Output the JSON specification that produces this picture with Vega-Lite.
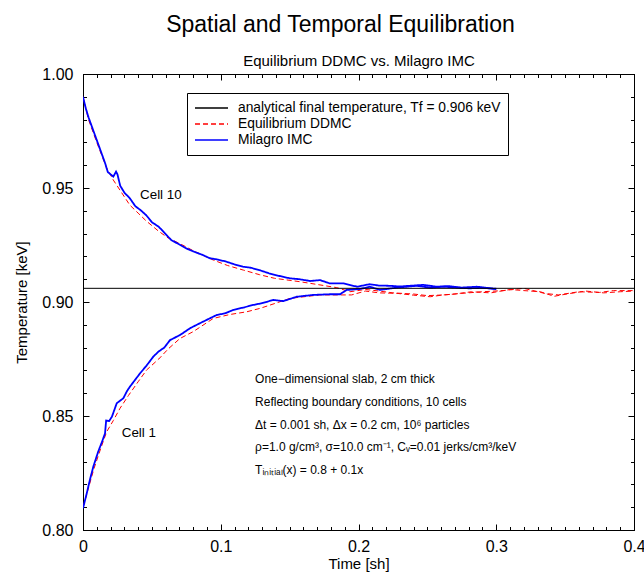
{
  "$schema": "https://vega.github.io/schema/vega-lite/v6.json",
  "width": 551,
  "height": 456,
  "autosize": {"type": "none"},
  "padding": {"left": 83, "top": 74, "right": 10, "bottom": 47},
  "background": "white",
  "title": {"text": "Spatial and Temporal Equilibration", "font": "Liberation Sans", "fontSize": 23, "fontWeight": "normal", "color": "black", "anchor": "middle", "dx": -18, "offset": 17},
  "config": {
    "view": {"stroke": "black", "strokeWidth": 1},
    "font": "Liberation Sans",
    "axis": {"grid": false, "domainColor": "black", "tickColor": "black", "labelColor": "black", "titleColor": "black", "labelFont": "Liberation Sans", "titleFont": "Liberation Sans", "titleFontWeight": "normal", "labelFlush": false, "labelOverlap": false},
    "legend": {"labelFont": "Liberation Sans", "labelFontSize": 13.8, "labelColor": "black", "strokeColor": "black", "fillColor": "white", "padding": 7, "symbolType": "stroke", "symbolSize": 1089, "symbolStrokeWidth": 1.5, "clipHeight": 16, "rowPadding": 0, "labelOffset": 9, "labelLimit": 400}
  },
  "datasets": {
    "ref": [{"series": "analytical final temperature, Tf = 0.906 keV", "T": 0.906}],
    "ddmc": [
      {"series": "Equilibrium DDMC", "cell": "10", "t": 0, "T": 0.990},
      {"series": "Equilibrium DDMC", "cell": "10", "t": 0.004, "T": 0.980},
      {"series": "Equilibrium DDMC", "cell": "10", "t": 0.010, "T": 0.970},
      {"series": "Equilibrium DDMC", "cell": "10", "t": 0.017, "T": 0.959},
      {"series": "Equilibrium DDMC", "cell": "10", "t": 0.022, "T": 0.9535},
      {"series": "Equilibrium DDMC", "cell": "10", "t": 0.028, "T": 0.948},
      {"series": "Equilibrium DDMC", "cell": "10", "t": 0.034, "T": 0.9425},
      {"series": "Equilibrium DDMC", "cell": "10", "t": 0.040, "T": 0.939},
      {"series": "Equilibrium DDMC", "cell": "10", "t": 0.046, "T": 0.9355},
      {"series": "Equilibrium DDMC", "cell": "10", "t": 0.055, "T": 0.931},
      {"series": "Equilibrium DDMC", "cell": "10", "t": 0.062, "T": 0.928},
      {"series": "Equilibrium DDMC", "cell": "10", "t": 0.070, "T": 0.9257},
      {"series": "Equilibrium DDMC", "cell": "10", "t": 0.080, "T": 0.9225},
      {"series": "Equilibrium DDMC", "cell": "10", "t": 0.0946, "T": 0.9184},
      {"series": "Equilibrium DDMC", "cell": "10", "t": 0.105, "T": 0.916},
      {"series": "Equilibrium DDMC", "cell": "10", "t": 0.1164, "T": 0.914},
      {"series": "Equilibrium DDMC", "cell": "10", "t": 0.128, "T": 0.912},
      {"series": "Equilibrium DDMC", "cell": "10", "t": 0.139, "T": 0.9104},
      {"series": "Equilibrium DDMC", "cell": "10", "t": 0.1575, "T": 0.9089},
      {"series": "Equilibrium DDMC", "cell": "10", "t": 0.172, "T": 0.9075},
      {"series": "Equilibrium DDMC", "cell": "10", "t": 0.1842, "T": 0.9063},
      {"series": "Equilibrium DDMC", "cell": "10", "t": 0.1938, "T": 0.9045},
      {"series": "Equilibrium DDMC", "cell": "10", "t": 0.205, "T": 0.9055},
      {"series": "Equilibrium DDMC", "cell": "10", "t": 0.215, "T": 0.9048},
      {"series": "Equilibrium DDMC", "cell": "10", "t": 0.225, "T": 0.904},
      {"series": "Equilibrium DDMC", "cell": "10", "t": 0.240, "T": 0.9035},
      {"series": "Equilibrium DDMC", "cell": "10", "t": 0.250, "T": 0.9028},
      {"series": "Equilibrium DDMC", "cell": "10", "t": 0.262, "T": 0.9031},
      {"series": "Equilibrium DDMC", "cell": "10", "t": 0.275, "T": 0.9038},
      {"series": "Equilibrium DDMC", "cell": "10", "t": 0.290, "T": 0.9045},
      {"series": "Equilibrium DDMC", "cell": "10", "t": 0.305, "T": 0.905},
      {"series": "Equilibrium DDMC", "cell": "10", "t": 0.320, "T": 0.906},
      {"series": "Equilibrium DDMC", "cell": "10", "t": 0.335, "T": 0.9038},
      {"series": "Equilibrium DDMC", "cell": "10", "t": 0.345, "T": 0.9031},
      {"series": "Equilibrium DDMC", "cell": "10", "t": 0.360, "T": 0.9045},
      {"series": "Equilibrium DDMC", "cell": "10", "t": 0.375, "T": 0.9042},
      {"series": "Equilibrium DDMC", "cell": "10", "t": 0.385, "T": 0.905},
      {"series": "Equilibrium DDMC", "cell": "10", "t": 0.400, "T": 0.905},
      {"series": "Equilibrium DDMC", "cell": "1", "t": 0, "T": 0.810},
      {"series": "Equilibrium DDMC", "cell": "1", "t": 0.004, "T": 0.8185},
      {"series": "Equilibrium DDMC", "cell": "1", "t": 0.008, "T": 0.827},
      {"series": "Equilibrium DDMC", "cell": "1", "t": 0.013, "T": 0.836},
      {"series": "Equilibrium DDMC", "cell": "1", "t": 0.0172, "T": 0.8431},
      {"series": "Equilibrium DDMC", "cell": "1", "t": 0.022, "T": 0.848},
      {"series": "Equilibrium DDMC", "cell": "1", "t": 0.0269, "T": 0.8534},
      {"series": "Equilibrium DDMC", "cell": "1", "t": 0.033, "T": 0.859},
      {"series": "Equilibrium DDMC", "cell": "1", "t": 0.040, "T": 0.865},
      {"series": "Equilibrium DDMC", "cell": "1", "t": 0.0462, "T": 0.8702},
      {"series": "Equilibrium DDMC", "cell": "1", "t": 0.055, "T": 0.875},
      {"series": "Equilibrium DDMC", "cell": "1", "t": 0.062, "T": 0.8795},
      {"series": "Equilibrium DDMC", "cell": "1", "t": 0.0704, "T": 0.884},
      {"series": "Equilibrium DDMC", "cell": "1", "t": 0.080, "T": 0.887},
      {"series": "Equilibrium DDMC", "cell": "1", "t": 0.0946, "T": 0.8928},
      {"series": "Equilibrium DDMC", "cell": "1", "t": 0.1065, "T": 0.8945},
      {"series": "Equilibrium DDMC", "cell": "1", "t": 0.1188, "T": 0.8957},
      {"series": "Equilibrium DDMC", "cell": "1", "t": 0.1285, "T": 0.8972},
      {"series": "Equilibrium DDMC", "cell": "1", "t": 0.140, "T": 0.8995},
      {"series": "Equilibrium DDMC", "cell": "1", "t": 0.1503, "T": 0.9016},
      {"series": "Equilibrium DDMC", "cell": "1", "t": 0.172, "T": 0.9031},
      {"series": "Equilibrium DDMC", "cell": "1", "t": 0.195, "T": 0.9031},
      {"series": "Equilibrium DDMC", "cell": "1", "t": 0.205, "T": 0.9048},
      {"series": "Equilibrium DDMC", "cell": "1", "t": 0.215, "T": 0.904},
      {"series": "Equilibrium DDMC", "cell": "1", "t": 0.2277, "T": 0.9038},
      {"series": "Equilibrium DDMC", "cell": "1", "t": 0.240, "T": 0.903},
      {"series": "Equilibrium DDMC", "cell": "1", "t": 0.252, "T": 0.9023},
      {"series": "Equilibrium DDMC", "cell": "1", "t": 0.2616, "T": 0.9031},
      {"series": "Equilibrium DDMC", "cell": "1", "t": 0.270, "T": 0.9035},
      {"series": "Equilibrium DDMC", "cell": "1", "t": 0.282, "T": 0.9045},
      {"series": "Equilibrium DDMC", "cell": "1", "t": 0.296, "T": 0.904},
      {"series": "Equilibrium DDMC", "cell": "1", "t": 0.310, "T": 0.9055},
      {"series": "Equilibrium DDMC", "cell": "1", "t": 0.320, "T": 0.905},
      {"series": "Equilibrium DDMC", "cell": "1", "t": 0.332, "T": 0.9045},
      {"series": "Equilibrium DDMC", "cell": "1", "t": 0.342, "T": 0.9025},
      {"series": "Equilibrium DDMC", "cell": "1", "t": 0.352, "T": 0.9036},
      {"series": "Equilibrium DDMC", "cell": "1", "t": 0.365, "T": 0.9048},
      {"series": "Equilibrium DDMC", "cell": "1", "t": 0.378, "T": 0.904},
      {"series": "Equilibrium DDMC", "cell": "1", "t": 0.390, "T": 0.9045},
      {"series": "Equilibrium DDMC", "cell": "1", "t": 0.400, "T": 0.9048}
    ],
    "imc": [
      {"series": "Milagro IMC", "cell": "10", "t": 0, "T": 0.990},
      {"series": "Milagro IMC", "cell": "10", "t": 0.002, "T": 0.985},
      {"series": "Milagro IMC", "cell": "10", "t": 0.004, "T": 0.981},
      {"series": "Milagro IMC", "cell": "10", "t": 0.007, "T": 0.976},
      {"series": "Milagro IMC", "cell": "10", "t": 0.010, "T": 0.971},
      {"series": "Milagro IMC", "cell": "10", "t": 0.013, "T": 0.966},
      {"series": "Milagro IMC", "cell": "10", "t": 0.016, "T": 0.961},
      {"series": "Milagro IMC", "cell": "10", "t": 0.018, "T": 0.957},
      {"series": "Milagro IMC", "cell": "10", "t": 0.020, "T": 0.956},
      {"series": "Milagro IMC", "cell": "10", "t": 0.022, "T": 0.955},
      {"series": "Milagro IMC", "cell": "10", "t": 0.024, "T": 0.9572},
      {"series": "Milagro IMC", "cell": "10", "t": 0.025, "T": 0.956},
      {"series": "Milagro IMC", "cell": "10", "t": 0.027, "T": 0.951},
      {"series": "Milagro IMC", "cell": "10", "t": 0.030, "T": 0.948},
      {"series": "Milagro IMC", "cell": "10", "t": 0.034, "T": 0.9455},
      {"series": "Milagro IMC", "cell": "10", "t": 0.038, "T": 0.942},
      {"series": "Milagro IMC", "cell": "10", "t": 0.042, "T": 0.9402},
      {"series": "Milagro IMC", "cell": "10", "t": 0.046, "T": 0.938},
      {"series": "Milagro IMC", "cell": "10", "t": 0.050, "T": 0.935},
      {"series": "Milagro IMC", "cell": "10", "t": 0.055, "T": 0.933},
      {"series": "Milagro IMC", "cell": "10", "t": 0.060, "T": 0.9298},
      {"series": "Milagro IMC", "cell": "10", "t": 0.064, "T": 0.9272},
      {"series": "Milagro IMC", "cell": "10", "t": 0.070, "T": 0.9252},
      {"series": "Milagro IMC", "cell": "10", "t": 0.075, "T": 0.9235},
      {"series": "Milagro IMC", "cell": "10", "t": 0.080, "T": 0.9222},
      {"series": "Milagro IMC", "cell": "10", "t": 0.087, "T": 0.9206},
      {"series": "Milagro IMC", "cell": "10", "t": 0.092, "T": 0.9192},
      {"series": "Milagro IMC", "cell": "10", "t": 0.098, "T": 0.9186},
      {"series": "Milagro IMC", "cell": "10", "t": 0.104, "T": 0.9177},
      {"series": "Milagro IMC", "cell": "10", "t": 0.110, "T": 0.9165},
      {"series": "Milagro IMC", "cell": "10", "t": 0.116, "T": 0.9155},
      {"series": "Milagro IMC", "cell": "10", "t": 0.122, "T": 0.915},
      {"series": "Milagro IMC", "cell": "10", "t": 0.128, "T": 0.914},
      {"series": "Milagro IMC", "cell": "10", "t": 0.135, "T": 0.9126},
      {"series": "Milagro IMC", "cell": "10", "t": 0.142, "T": 0.9115},
      {"series": "Milagro IMC", "cell": "10", "t": 0.150, "T": 0.9104},
      {"series": "Milagro IMC", "cell": "10", "t": 0.157, "T": 0.91},
      {"series": "Milagro IMC", "cell": "10", "t": 0.165, "T": 0.9092},
      {"series": "Milagro IMC", "cell": "10", "t": 0.172, "T": 0.9096},
      {"series": "Milagro IMC", "cell": "10", "t": 0.179, "T": 0.9082},
      {"series": "Milagro IMC", "cell": "10", "t": 0.189, "T": 0.9082},
      {"series": "Milagro IMC", "cell": "10", "t": 0.199, "T": 0.9067},
      {"series": "Milagro IMC", "cell": "10", "t": 0.208, "T": 0.9078},
      {"series": "Milagro IMC", "cell": "10", "t": 0.215, "T": 0.9072},
      {"series": "Milagro IMC", "cell": "10", "t": 0.223, "T": 0.9071},
      {"series": "Milagro IMC", "cell": "10", "t": 0.230, "T": 0.9068},
      {"series": "Milagro IMC", "cell": "10", "t": 0.237, "T": 0.9071},
      {"series": "Milagro IMC", "cell": "10", "t": 0.247, "T": 0.9075},
      {"series": "Milagro IMC", "cell": "10", "t": 0.257, "T": 0.9067},
      {"series": "Milagro IMC", "cell": "10", "t": 0.265, "T": 0.907},
      {"series": "Milagro IMC", "cell": "10", "t": 0.274, "T": 0.9063},
      {"series": "Milagro IMC", "cell": "10", "t": 0.286, "T": 0.9067},
      {"series": "Milagro IMC", "cell": "10", "t": 0.293, "T": 0.9062},
      {"series": "Milagro IMC", "cell": "10", "t": 0.300, "T": 0.9056},
      {"series": "Milagro IMC", "cell": "1", "t": 0, "T": 0.8095},
      {"series": "Milagro IMC", "cell": "1", "t": 0.0027, "T": 0.816},
      {"series": "Milagro IMC", "cell": "1", "t": 0.005, "T": 0.822},
      {"series": "Milagro IMC", "cell": "1", "t": 0.0075, "T": 0.8278},
      {"series": "Milagro IMC", "cell": "1", "t": 0.011, "T": 0.8343},
      {"series": "Milagro IMC", "cell": "1", "t": 0.014, "T": 0.839},
      {"series": "Milagro IMC", "cell": "1", "t": 0.016, "T": 0.8424},
      {"series": "Milagro IMC", "cell": "1", "t": 0.0168, "T": 0.848},
      {"series": "Milagro IMC", "cell": "1", "t": 0.019, "T": 0.8478},
      {"series": "Milagro IMC", "cell": "1", "t": 0.021, "T": 0.8497},
      {"series": "Milagro IMC", "cell": "1", "t": 0.0245, "T": 0.8556},
      {"series": "Milagro IMC", "cell": "1", "t": 0.0293, "T": 0.8578},
      {"series": "Milagro IMC", "cell": "1", "t": 0.032, "T": 0.861},
      {"series": "Milagro IMC", "cell": "1", "t": 0.0341, "T": 0.8629},
      {"series": "Milagro IMC", "cell": "1", "t": 0.038, "T": 0.866},
      {"series": "Milagro IMC", "cell": "1", "t": 0.0414, "T": 0.8687},
      {"series": "Milagro IMC", "cell": "1", "t": 0.046, "T": 0.872},
      {"series": "Milagro IMC", "cell": "1", "t": 0.051, "T": 0.876},
      {"series": "Milagro IMC", "cell": "1", "t": 0.0547, "T": 0.8782},
      {"series": "Milagro IMC", "cell": "1", "t": 0.059, "T": 0.88},
      {"series": "Milagro IMC", "cell": "1", "t": 0.0632, "T": 0.8833},
      {"series": "Milagro IMC", "cell": "1", "t": 0.0704, "T": 0.8855},
      {"series": "Milagro IMC", "cell": "1", "t": 0.0777, "T": 0.8885},
      {"series": "Milagro IMC", "cell": "1", "t": 0.0849, "T": 0.8907},
      {"series": "Milagro IMC", "cell": "1", "t": 0.091, "T": 0.8925},
      {"series": "Milagro IMC", "cell": "1", "t": 0.097, "T": 0.8943},
      {"series": "Milagro IMC", "cell": "1", "t": 0.103, "T": 0.895},
      {"series": "Milagro IMC", "cell": "1", "t": 0.1091, "T": 0.8965},
      {"series": "Milagro IMC", "cell": "1", "t": 0.116, "T": 0.8975},
      {"series": "Milagro IMC", "cell": "1", "t": 0.1236, "T": 0.8987},
      {"series": "Milagro IMC", "cell": "1", "t": 0.130, "T": 0.8995},
      {"series": "Milagro IMC", "cell": "1", "t": 0.1382, "T": 0.9009},
      {"series": "Milagro IMC", "cell": "1", "t": 0.1454, "T": 0.9004},
      {"series": "Milagro IMC", "cell": "1", "t": 0.1551, "T": 0.9023},
      {"series": "Milagro IMC", "cell": "1", "t": 0.1672, "T": 0.9031},
      {"series": "Milagro IMC", "cell": "1", "t": 0.1793, "T": 0.9034},
      {"series": "Milagro IMC", "cell": "1", "t": 0.1866, "T": 0.9034},
      {"series": "Milagro IMC", "cell": "1", "t": 0.1914, "T": 0.9053},
      {"series": "Milagro IMC", "cell": "1", "t": 0.2011, "T": 0.9057},
      {"series": "Milagro IMC", "cell": "1", "t": 0.2083, "T": 0.9067},
      {"series": "Milagro IMC", "cell": "1", "t": 0.2156, "T": 0.9053},
      {"series": "Milagro IMC", "cell": "1", "t": 0.2277, "T": 0.9063},
      {"series": "Milagro IMC", "cell": "1", "t": 0.2422, "T": 0.9071},
      {"series": "Milagro IMC", "cell": "1", "t": 0.2519, "T": 0.9063},
      {"series": "Milagro IMC", "cell": "1", "t": 0.2616, "T": 0.9067},
      {"series": "Milagro IMC", "cell": "1", "t": 0.270, "T": 0.9064},
      {"series": "Milagro IMC", "cell": "1", "t": 0.280, "T": 0.906},
      {"series": "Milagro IMC", "cell": "1", "t": 0.290, "T": 0.9062},
      {"series": "Milagro IMC", "cell": "1", "t": 0.300, "T": 0.9058}
    ],
    "cells": [
      {"t": 0.0414, "T": 0.9469, "label": "Cell 10"},
      {"t": 0.0281, "T": 0.8427, "label": "Cell 1"}
    ],
    "info": [
      {"t": 0.1249, "T": 0.8662, "label": "One−dimensional slab, 2 cm thick"},
      {"t": 0.1249, "T": 0.8561, "label": "Reflecting boundary conditions, 10 cells"},
      {"t": 0.1249, "T": 0.8461, "label": "Δt = 0.001 sh, Δx = 0.2 cm, 10⁶ particles"},
      {"t": 0.1249, "T": 0.8364, "label": "ρ=1.0 g/cm³, σ=10.0 cm⁻¹, Cᵥ=0.01 jerks/cm³/keV"},
      {"t": 0.1249, "T": 0.8263, "label": "Tᵢₙᵢₜᵢₐₗ(x) = 0.8 + 0.1x"}
    ]
  },
  "layer": [
    {
      "data": {"name": "ddmc"},
      "mark": {"type": "line", "strokeWidth": 1, "clip": true},
      "encoding": {
        "x": {"field": "t", "type": "quantitative", "scale": {"domain": [0, 0.4], "nice": false, "zero": false},
              "axis": {"orient": "bottom", "values": [0, 0.1, 0.2, 0.3, 0.4], "tickSize": -6, "labelPadding": 14, "labelFontSize": 16, "labelExpr": "datum.value == 0 ? '0' : format(datum.value, '.1f')", "title": "Time [sh]", "titleFontSize": 15, "titlePadding": 2}},
        "y": {"field": "T", "type": "quantitative", "scale": {"domain": [0.8, 1.0], "nice": false, "zero": false},
              "axis": {"orient": "left", "values": [0.8, 0.85, 0.9, 0.95, 1.0], "tickSize": -6, "labelPadding": 16, "labelFontSize": 16, "format": ".2f", "title": "Temperature [keV]", "titleFontSize": 15, "titlePadding": 12}},
        "color": {"field": "series", "type": "nominal",
                  "scale": {"domain": ["analytical final temperature, Tf = 0.906 keV", "Equilibrium DDMC", "Milagro IMC"], "range": ["#000000", "#ff0000", "#0000ff"]},
                  "legend": {"orient": "none", "legendX": 104, "legendY": 19, "title": null}},
        "strokeDash": {"field": "series", "type": "nominal",
                  "scale": {"domain": ["analytical final temperature, Tf = 0.906 keV", "Equilibrium DDMC", "Milagro IMC"], "range": [[1, 0], [5, 3], [1, 0]]},
                  "legend": {"orient": "none", "legendX": 104, "legendY": 19, "title": null}},
        "detail": {"field": "cell", "type": "nominal"},
        "order": {"field": "t", "type": "quantitative"}
      }
    },
    {
      "data": {"name": "imc"},
      "mark": {"type": "line", "strokeWidth": 1.8, "clip": true},
      "encoding": {
        "x": {"field": "t", "type": "quantitative", "scale": {"domain": [0, 0.4], "nice": false, "zero": false},
              "axis": {"orient": "bottom", "values": [0,0.01,0.02,0.03,0.04,0.05,0.06,0.07,0.08,0.09,0.1,0.11,0.12,0.13,0.14,0.15,0.16,0.17,0.18,0.19,0.2,0.21,0.22,0.23,0.24,0.25,0.26,0.27,0.28,0.29,0.3,0.31,0.32,0.33,0.34,0.35,0.36,0.37,0.38,0.39,0.4], "tickSize": -3.5, "labels": false, "domain": false, "title": null}},
        "y": {"field": "T", "type": "quantitative", "scale": {"domain": [0.8, 1.0], "nice": false, "zero": false},
              "axis": {"orient": "left", "values": [0.8,0.81,0.82,0.83,0.84,0.85,0.86,0.87,0.88,0.89,0.9,0.91,0.92,0.93,0.94,0.95,0.96,0.97,0.98,0.99,1.0], "tickSize": -3.5, "labels": false, "domain": false, "title": null}},
        "color": {"field": "series", "type": "nominal"},
        "strokeDash": {"field": "series", "type": "nominal"},
        "detail": {"field": "cell", "type": "nominal"},
        "order": {"field": "t", "type": "quantitative"}
      }
    },
    {
      "data": {"name": "ref"},
      "mark": {"type": "rule", "strokeWidth": 1},
      "encoding": {
        "y": {"field": "T", "type": "quantitative", "scale": {"domain": [0.8, 1.0], "nice": false, "zero": false},
              "axis": {"orient": "right", "values": [0.8, 0.85, 0.9, 0.95, 1.0], "tickSize": -6, "labels": false, "title": null}},
        "color": {"field": "series", "type": "nominal"},
        "strokeDash": {"field": "series", "type": "nominal"}
      }
    },
    {
      "data": {"name": "cells"},
      "mark": {"type": "text", "align": "left", "baseline": "middle", "fontSize": 13.4, "font": "Liberation Sans", "color": "black"},
      "encoding": {
        "x": {"field": "t", "type": "quantitative", "scale": {"domain": [0, 0.4], "nice": false, "zero": false},
              "axis": {"orient": "top", "values": [0, 0.1, 0.2, 0.3, 0.4], "tickSize": -6, "labels": false, "title": "Equilibrium DDMC vs. Milagro IMC", "titleFontSize": 15, "titlePadding": 5}},
        "y": {"field": "T", "type": "quantitative", "scale": {"domain": [0.8, 1.0], "nice": false, "zero": false},
              "axis": {"orient": "right", "values": [0.8,0.81,0.82,0.83,0.84,0.85,0.86,0.87,0.88,0.89,0.9,0.91,0.92,0.93,0.94,0.95,0.96,0.97,0.98,0.99,1.0], "tickSize": -3.5, "labels": false, "domain": false, "title": null}},
        "text": {"field": "label"}
      }
    },
    {
      "data": {"name": "info"},
      "mark": {"type": "text", "align": "left", "baseline": "middle", "fontSize": 12, "font": "Liberation Sans", "color": "black"},
      "encoding": {
        "x": {"field": "t", "type": "quantitative", "scale": {"domain": [0, 0.4], "nice": false, "zero": false},
              "axis": {"orient": "top", "values": [0,0.01,0.02,0.03,0.04,0.05,0.06,0.07,0.08,0.09,0.1,0.11,0.12,0.13,0.14,0.15,0.16,0.17,0.18,0.19,0.2,0.21,0.22,0.23,0.24,0.25,0.26,0.27,0.28,0.29,0.3,0.31,0.32,0.33,0.34,0.35,0.36,0.37,0.38,0.39,0.4], "tickSize": -3.5, "labels": false, "domain": false, "title": null}},
        "y": {"field": "T", "type": "quantitative", "scale": {"domain": [0.8, 1.0], "nice": false, "zero": false}, "axis": null},
        "text": {"field": "label"}
      }
    }
  ],
  "resolve": {"axis": {"x": "independent", "y": "independent"}}
}
